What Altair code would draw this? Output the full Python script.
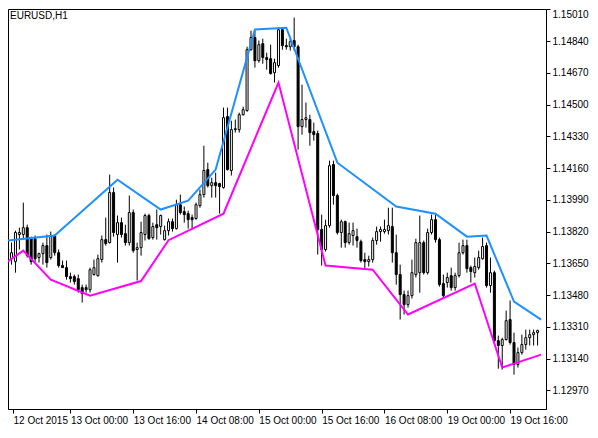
import altair as alt
import pandas as pd

# ---- OHLC (EURUSD H1), bar index 0..135 ----
opens = [1.13724, 1.13675, 1.13659, 1.13804, 1.13804, 1.13841, 1.13782, 1.13782, 1.13681, 1.13702,
         1.13745, 1.13681, 1.13799, 1.13707, 1.13638, 1.13627, 1.13579, 1.13579, 1.13568, 1.13520,
         1.13520, 1.13509, 1.13590, 1.13584, 1.13670, 1.13777, 1.13761, 1.14029, 1.13804, 1.13868,
         1.13809, 1.13761, 1.13922, 1.13724, 1.13734, 1.13804, 1.13906, 1.13788, 1.13857, 1.13847,
         1.13777, 1.13825, 1.13873, 1.13836, 1.13964, 1.13927, 1.13916, 1.13895, 1.13890, 1.13959,
         1.14018, 1.14152, 1.14066, 1.14082, 1.14077, 1.14056, 1.14436, 1.14147, 1.14366, 1.14366,
         1.14446, 1.14468, 1.14794, 1.14859, 1.14735, 1.14826, 1.14752, 1.14746, 1.14671, 1.14709,
         1.14901, 1.14816, 1.14810, 1.14843, 1.14810, 1.14382, 1.14420, 1.14420, 1.14355, 1.14345,
         1.13831, 1.13724, 1.13852, 1.14179, 1.14013, 1.13815, 1.13873, 1.13761, 1.13799, 1.13793,
         1.13766, 1.13670, 1.13659, 1.13670, 1.13772, 1.13820, 1.13820, 1.13825, 1.13847, 1.13707,
         1.13590, 1.13483, 1.13429, 1.13477, 1.13590, 1.13600, 1.13761, 1.13600, 1.13815, 1.13884,
         1.13777, 1.13542, 1.13547, 1.13584, 1.13520, 1.13584, 1.13707, 1.13745, 1.13627, 1.13600,
         1.13627, 1.13675, 1.13745, 1.13531, 1.13600, 1.13236, 1.13210, 1.13242, 1.13349, 1.13226,
         1.13108, 1.13172, 1.13215, 1.13252, 1.13268, 1.13279]
highs = [1.13745, 1.13761, 1.13825, 1.13841, 1.13975, 1.13857, 1.13793, 1.13799, 1.13707, 1.13761,
         1.13804, 1.13820, 1.13804, 1.13724, 1.13665, 1.13665, 1.13600, 1.13590, 1.13590, 1.13536,
         1.13536, 1.13627, 1.13670, 1.13697, 1.13799, 1.13895, 1.14125, 1.14056, 1.13906, 1.13895,
         1.13857, 1.14013, 1.13938, 1.13761, 1.13873, 1.13916, 1.13916, 1.13868, 1.13938, 1.13911,
         1.13852, 1.13890, 1.13890, 1.13991, 1.14018, 1.13954, 1.13932, 1.13911, 1.13975, 1.14045,
         1.14280, 1.14189, 1.14109, 1.14136, 1.14082, 1.14484, 1.14484, 1.14414, 1.14420, 1.14457,
         1.14489, 1.14810, 1.14896, 1.14896, 1.14843, 1.14853, 1.14778, 1.14821, 1.14746, 1.14912,
         1.14912, 1.14853, 1.14853, 1.14966, 1.14821, 1.14607, 1.14511, 1.14446, 1.14404, 1.14361,
         1.13911, 1.13884, 1.14200, 1.14200, 1.14023, 1.13884, 1.13879, 1.13868, 1.13868, 1.13836,
         1.13777, 1.13707, 1.13691, 1.13788, 1.13847, 1.13847, 1.13884, 1.13948, 1.13948, 1.13804,
         1.13643, 1.13504, 1.13504, 1.13670, 1.13782, 1.13906, 1.13772, 1.13836, 1.13911, 1.13911,
         1.13788, 1.13590, 1.13600, 1.13627, 1.13600, 1.13761, 1.13777, 1.13777, 1.13638, 1.13681,
         1.13718, 1.13788, 1.13761, 1.13681, 1.13611, 1.13263, 1.13252, 1.13397, 1.13451, 1.13279,
         1.13199, 1.13268, 1.13295, 1.13295, 1.13295, 1.13295]
lows = [1.13665, 1.13643, 1.13600, 1.13724, 1.13777, 1.13681, 1.13643, 1.13654, 1.13654, 1.13643,
        1.13627, 1.13670, 1.13691, 1.13627, 1.13627, 1.13563, 1.13547, 1.13536, 1.13493, 1.13440,
        1.13493, 1.13493, 1.13584, 1.13579, 1.13654, 1.13745, 1.13756, 1.13793, 1.13654, 1.13788,
        1.13745, 1.13745, 1.13707, 1.13558, 1.13691, 1.13772, 1.13777, 1.13777, 1.13777, 1.13804,
        1.13772, 1.13799, 1.13820, 1.13831, 1.13911, 1.13868, 1.13836, 1.13836, 1.13884, 1.13948,
        1.14002, 1.14056, 1.14002, 1.14002, 1.13916, 1.14050, 1.14147, 1.14120, 1.14350, 1.14350,
        1.14441, 1.14462, 1.14789, 1.14698, 1.14725, 1.14719, 1.14687, 1.14661, 1.14618, 1.14698,
        1.14794, 1.14794, 1.14789, 1.14789, 1.14259, 1.14339, 1.14377, 1.14280, 1.14307, 1.13697,
        1.13638, 1.13713, 1.13841, 1.13964, 1.13804, 1.13734, 1.13734, 1.13750, 1.13745, 1.13734,
        1.13654, 1.13622, 1.13633, 1.13654, 1.13750, 1.13766, 1.13809, 1.13804, 1.13654, 1.13536,
        1.13349, 1.13376, 1.13413, 1.13461, 1.13574, 1.13493, 1.13590, 1.13590, 1.13804, 1.13761,
        1.13525, 1.13461, 1.13520, 1.13504, 1.13504, 1.13574, 1.13697, 1.13600, 1.13547, 1.13574,
        1.13616, 1.13670, 1.13520, 1.13493, 1.13226, 1.13086, 1.13081, 1.13236, 1.13215, 1.13054,
        1.13092, 1.13161, 1.13188, 1.13210, 1.13210, 1.13210]
closes = [1.13686, 1.13707, 1.13815, 1.13815, 1.13841, 1.13691, 1.13659, 1.13675, 1.13702, 1.13745,
          1.13654, 1.13799, 1.13707, 1.13638, 1.13627, 1.13579, 1.13568, 1.13552, 1.13509, 1.13488,
          1.13509, 1.13616, 1.13627, 1.13675, 1.13777, 1.13756, 1.14029, 1.13815, 1.13868, 1.13804,
          1.13761, 1.13922, 1.13718, 1.13734, 1.13815, 1.13906, 1.13782, 1.13847, 1.13841, 1.13906,
          1.13825, 1.13873, 1.13836, 1.13964, 1.13922, 1.13911, 1.13884, 1.13884, 1.13964, 1.14018,
          1.14147, 1.14066, 1.14082, 1.14066, 1.14061, 1.14430, 1.14152, 1.14366, 1.14371, 1.14446,
          1.14473, 1.14794, 1.14859, 1.14735, 1.14821, 1.14752, 1.14741, 1.14666, 1.14725, 1.14901,
          1.14816, 1.14810, 1.14837, 1.14810, 1.14382, 1.14420, 1.14430, 1.14350, 1.14339, 1.13831,
          1.13724, 1.13852, 1.14173, 1.14013, 1.13815, 1.13873, 1.13761, 1.13809, 1.13825, 1.13772,
          1.13665, 1.13659, 1.13670, 1.13772, 1.13820, 1.13831, 1.13831, 1.13852, 1.13707, 1.13590,
          1.13483, 1.13429, 1.13477, 1.13600, 1.13761, 1.13761, 1.13600, 1.13815, 1.13884, 1.13777,
          1.13536, 1.13477, 1.13574, 1.13520, 1.13584, 1.13707, 1.13745, 1.13622, 1.13606, 1.13633,
          1.13681, 1.13740, 1.13531, 1.13600, 1.13236, 1.13210, 1.13242, 1.13343, 1.13226, 1.13108,
          1.13172, 1.13215, 1.13252, 1.13268, 1.13279, 1.13290]

# ---- indicator lines (vertices: bar index, price) ----
blue_bar = [0, 12, 28, 39, 46, 53, 63, 71, 84, 99, 109, 117, 122, 129, 135.9]
blue_val = [1.13772, 1.13799, 1.14098, 1.13938, 1.13986, 1.14152, 1.14902, 1.14912, 1.14189,
            1.13954, 1.13916, 1.13793, 1.13799, 1.13445, 1.13349]
mag_bar = [0, 4, 11, 21, 34, 41, 55, 69, 81, 93, 102, 119, 126, 129, 135.9]
mag_val = [1.13659, 1.13718, 1.13563, 1.13477, 1.13555, 1.13774, 1.13916, 1.14618, 1.13638,
           1.13616, 1.13376, 1.13542, 1.13092, 1.13113, 1.13161]

# ---- axes ----
x_tick_bar = [1.375, 16, 32, 48, 64, 80, 96, 112, 128]
x_tick_lab = ["12 Oct 2015", "13 Oct 00:00", "13 Oct 16:00", "14 Oct 08:00", "15 Oct 00:00",
              "15 Oct 16:00", "16 Oct 08:00", "19 Oct 00:00", "19 Oct 16:00"]
y_ticks = [1.12970, 1.13140, 1.13310, 1.13480, 1.13650, 1.13820, 1.13990, 1.14160,
           1.14330, 1.14500, 1.14670, 1.14840, 1.15010]
chart_title = "EURUSD,H1"

FONT = "Liberation Sans"

df = pd.DataFrame({"bar": list(range(len(opens))), "open": opens, "high": highs,
                   "low": lows, "close": closes})
df["dir"] = ["up" if c >= o else "down" for o, c in zip(opens, closes)]

label_expr = "''"
for v, lab in reversed(list(zip(x_tick_bar, x_tick_lab))):
    label_expr = f"abs(datum.value - {v}) < 0.01 ? '{lab}' : ({label_expr})"

xscale = alt.Scale(domain=[1.375, 135.875], nice=False, zero=False)
yscale = alt.Scale(domain=[1.12870, 1.15012], nice=False, zero=False)

xaxis = alt.Axis(values=x_tick_bar, labelExpr=label_expr, grid=False, tickSize=4,
                 tickColor="black", domainColor="black", labelColor="black",
                 labelAlign="left", labelBaseline="top", labelPadding=2,
                 labelOverlap=False, labelBound=False, labelFlush=False,
                 labelFont=FONT, labelFontSize=10, title=None)
yaxis = alt.Axis(orient="right", values=y_ticks, format=".5f", grid=False, tickSize=4,
                 tickColor="black", domainColor="black", labelColor="black",
                 labelAlign="left", labelPadding=2, labelOverlap=False,
                 labelBound=False, labelFlush=False,
                 labelBaseline={"condition": {"test": "datum.value > 1.15", "value": "top"},
                                "value": "middle"},
                 labelFont=FONT, labelFontSize=10, title=None)


def X(field):
    return alt.X(field, type="quantitative", scale=xscale, axis=xaxis)


def Y(field):
    return alt.Y(field, type="quantitative", scale=yscale, axis=yaxis)


base = alt.Chart(df)
wicks = base.mark_rule(color="black", strokeWidth=1, clip=True).encode(
    x=X("bar"), y=Y("low"), y2="high")
bodies = base.mark_bar(size=2, stroke="black", strokeWidth=1, clip=True).encode(
    x=X("bar"), y=Y("open"), y2="close",
    fill=alt.Fill("dir:N", scale=alt.Scale(domain=["up", "down"], range=["white", "black"]),
                  legend=None))

blue = alt.Chart(pd.DataFrame({"bar": blue_bar, "price": blue_val})).mark_line(
    color="#1E90FF", strokeWidth=2, clip=True).encode(x=X("bar"), y=Y("price"))
mag = alt.Chart(pd.DataFrame({"bar": mag_bar, "price": mag_val})).mark_line(
    color="#FF00FF", strokeWidth=2, clip=True).encode(x=X("bar"), y=Y("price"))

title_txt = alt.Chart(pd.DataFrame({"t": [chart_title]})).mark_text(
    align="left", baseline="top", font=FONT, fontSize=10, color="black").encode(
    text="t:N", x=alt.value(2), y=alt.value(2))

chart = alt.layer(wicks, bodies, blue, mag, title_txt).properties(
    width=538, height=400, padding=0
).configure(background="white").configure_view(stroke="black", strokeWidth=1)

chart.save("out.html", embed_options={"renderer": "svg", "actions": False})
